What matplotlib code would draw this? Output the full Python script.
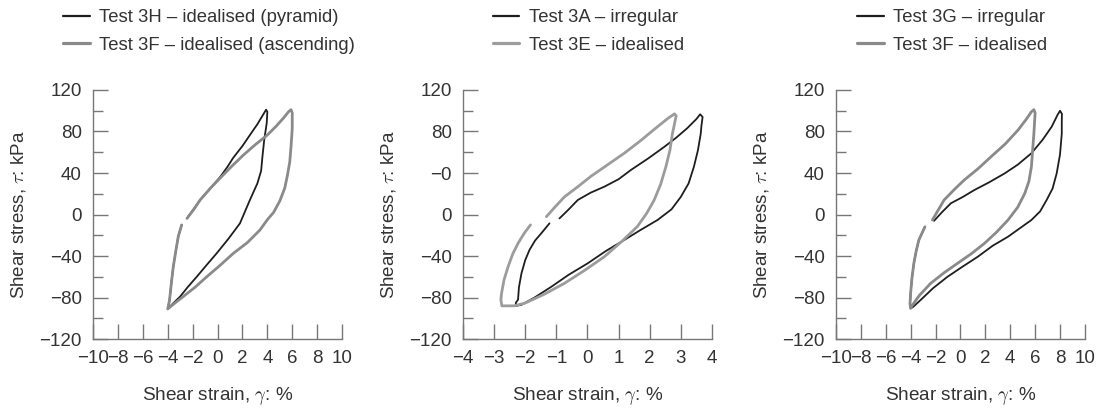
import matplotlib
matplotlib.use("Agg")
import matplotlib.pyplot as plt
from matplotlib.ticker import MultipleLocator

plt.rcParams['font.family'] = ['Liberation Sans', 'DejaVu Sans']
plt.rcParams['mathtext.fontset'] = 'cm'

# ---- panel 1: Test 3H (pyramid) vs Test 3F (ascending) ----
h3_x = [-2.45, -1.4, -0.6, 0.2, 0.8, 1.25, 2.0, 2.6, 3.2, 3.7, 3.9, 4.0, 3.95, 3.75, 3.6,
        3.5, 3.2, 2.6, 1.8, 0.9, -0.07, -0.9, -1.67, -2.4, -3.0, -3.6, -3.95,
        -3.85, -3.7, -3.55, -3.35, -3.15, -2.88]
h3_y = [-3.7, 14, 25, 36, 46, 54.5, 66, 76.6, 87, 97, 101, 99, 88, 72, 55,
        42, 30, 14, -8.5, -23, -37.4, -49, -60, -70, -79, -86, -90.4,
        -82, -65, -50, -35, -21, -10]
f3a_x = [-2.45, -1.9, -1.4, -0.6, 0.2, 1.1, 2.05, 3.0, 4.0, 4.7, 5.3, 5.7, 5.9, 6.0, 6.0,
         5.9, 5.8, 5.6, 5.4, 5.0, 4.5, 4.0, 3.4, 2.4, 1.27, 0.2, -0.87, -1.8, -2.75,
         -3.5, -4.0, -3.85, -3.7, -3.55, -3.35, -3.15, -2.88]
f3a_y = [-3.7, 5, 14, 25, 35, 46, 57, 67, 76.6, 85, 93, 99, 101, 98, 83,
         65, 50.6, 37, 25.5, 13, 2, -5, -15, -27, -37.4, -49, -60, -70, -79,
         -86, -91, -82, -65, -50, -35, -21, -10]

# ---- panel 2: Test 3A (irregular) vs Test 3E (idealised) ----
a3_x = [-0.9, -0.6, -0.31, 0.1, 0.54, 1.0, 1.4, 1.95, 2.46, 2.85, 3.2, 3.5, 3.62, 3.7,
        3.66, 3.64, 3.55, 3.42, 3.25, 3.0, 2.7, 2.25, 1.7, 1.18, 0.6, 0.01, -0.6,
        -1.16, -1.7, -2.12, -2.3, -2.3, -2.23, -2.2, -2.12, -2.0, -1.86, -1.68,
        -1.48, -1.22]
a3_y = [-3.8, 5, 14, 21, 26.8, 34, 43, 54, 65, 74, 83, 92, 96.6, 94,
        85, 78, 62, 46, 30, 17, 5, -5.3, -15, -24.6, -35, -47, -58,
        -69.6, -80, -87, -88, -85, -82, -70, -56.7, -44, -34, -25,
        -18, -8.5]
e3_x = [-1.32, -1.05, -0.74, -0.3, 0.12, 0.65, 1.18, 1.7, 2.25, 2.6, 2.8, 2.85, 2.78,
        2.73, 2.65, 2.52, 2.35, 2.14, 1.9, 1.6, 1.1, 0.54, -0.1, -0.74, -1.4, -2.0,
        -2.35, -2.75, -2.78, -2.76, -2.68, -2.55, -2.4, -2.23, -2.03, -1.83]
e3_y = [-2.1, 7, 17, 27, 37, 48, 59, 71, 84.6, 93, 97, 95, 85,
        78, 62, 46, 29, 13.7, 1, -11.7, -26, -40.7, -54, -66.3, -77, -85.3,
        -88, -88, -82, -76, -63, -50.3, -38, -27.8, -18, -10]

# ---- panel 3: Test 3G (irregular) vs Test 3F (idealised) ----
g3_x = [-2.12, -1.5, -0.77, 0.2, 1.12, 2.3, 3.55, 4.6, 5.7, 6.6, 7.33, 7.8, 8.0, 8.15,
        8.14, 8.14, 8.0, 7.73, 7.4, 6.92, 6.4, 5.7, 4.8, 3.82, 2.6, 1.39, 0.2, -1.04,
        -2.2, -3.2, -3.8, -4.0, -4.05, -4.0, -3.9, -3.74, -3.55, -3.34, -2.85]
g3_y = [-6.1, 2, 10.8, 17, 23.6, 31, 39.6, 48, 59, 72, 84.6, 96, 100, 97,
        88, 78, 58, 39.6, 25, 13.9, 3, -5.3, -13, -21.4, -30, -40.7, -50, -60,
        -71, -82.4, -89, -90.4, -86, -76, -62, -47, -35, -24.6, -11.8]
f3_x = [-2.25, -1.8, -1.31, -0.5, 0.31, 1.4, 2.47, 3.6, 4.63, 5.3, 5.7, 5.9, 6.0, 5.95,
        5.9, 5.8, 5.7, 5.5, 5.17, 4.6, 3.82, 2.9, 1.93, 0.85, -0.23, -1.3, -2.39,
        -3.3, -3.9, -4.0, -4.05, -4.0, -3.9, -3.74, -3.55, -3.34, -2.85]
f3_y = [-5.3, 4, 14, 24, 33.3, 44, 55.8, 68, 81.4, 92, 99, 101, 98, 88,
        78, 62, 46, 32, 20.4, 7, -5.3, -17, -27.8, -38, -47, -56, -66.3,
        -78, -88, -90.4, -86, -76, -62, -47, -35, -24.6, -11.8]

panels = [
    dict(black=(h3_x, h3_y), grey=(f3a_x, f3a_y),
         labels=["Test 3H \u2013 idealised (pyramid)", "Test 3F \u2013 idealised (ascending)"],
         xlim=(-10, 10), xstep=2, ylabels=None, grey_col="#8a8a8a"),
    dict(black=(a3_x, a3_y), grey=(e3_x, e3_y),
         labels=["Test 3A \u2013 irregular", "Test 3E \u2013 idealised"],
         xlim=(-4, 4), xstep=1, ylabels=["\u2212120", "\u221280", "\u221240", "0", "\u22120", "80", "120"],
         grey_col="#9c9c9c"),
    dict(black=(g3_x, g3_y), grey=(f3_x, f3_y),
         labels=["Test 3G \u2013 irregular", "Test 3F \u2013 idealised"],
         xlim=(-10, 10), xstep=2, ylabels=None, grey_col="#8a8a8a"),
]

ax_left = [0.0848, 0.422, 0.762]
leg_x = [0.0574, 0.449, 0.781]

fig = plt.figure(figsize=(10.97, 4.09), dpi=100)
text_col = "#333333"
axis_col = "#777777"

for i, p in enumerate(panels):
    ax = fig.add_axes([ax_left[i], 0.171, 0.227, 0.609])
    bl, = ax.plot(p["black"][0], p["black"][1], color="#1e1e1e", lw=1.3,
                  solid_capstyle="round", solid_joinstyle="round")
    gr, = ax.plot(p["grey"][0], p["grey"][1], color=p["grey_col"], lw=2.0,
                  solid_capstyle="round", solid_joinstyle="round")
    ax.set_xlim(*p["xlim"])
    ax.set_ylim(-120, 120)
    ax.xaxis.set_major_locator(MultipleLocator(p["xstep"]))
    ax.yaxis.set_major_locator(MultipleLocator(40))
    ax.yaxis.set_minor_locator(MultipleLocator(20))
    if p["ylabels"]:
        ax.set_yticks([-120, -80, -40, 0, 40, 80, 120])
        ax.set_yticklabels(p["ylabels"])
    for s in ["top", "right"]:
        ax.spines[s].set_visible(False)
    for s in ["left", "bottom"]:
        ax.spines[s].set_color(axis_col)
        ax.spines[s].set_linewidth(1.0)
    ax.tick_params(axis="both", which="major", direction="in", length=11, width=1.0,
                   color=axis_col, labelsize=13.5, labelcolor=text_col)
    ax.tick_params(axis="x", which="major", pad=8)
    ax.tick_params(axis="y", which="major", pad=8)
    ax.tick_params(axis="y", which="minor", direction="in", length=7, width=1.0,
                   color=axis_col)
    ax.set_xlabel(r"Shear strain, $\gamma$: %", fontsize=13.7, color=text_col, labelpad=13)
    ax.set_ylabel(r"Shear stress, $\tau$: kPa", fontsize=13.5, color=text_col, labelpad=8)
    fig.legend([bl, gr], p["labels"], loc="upper left",
               bbox_to_anchor=(leg_x[i], 0.977), frameon=False, fontsize=13.3,
               handlelength=1.45, handletextpad=0.5, labelspacing=0.55,
               borderpad=0, borderaxespad=0, labelcolor=text_col)
    leg = fig.legends[-1]
    leg.get_lines()[0].set_linewidth(1.6)
    leg.get_lines()[1].set_linewidth(2.3)

fig.savefig("out.png", dpi=100)
